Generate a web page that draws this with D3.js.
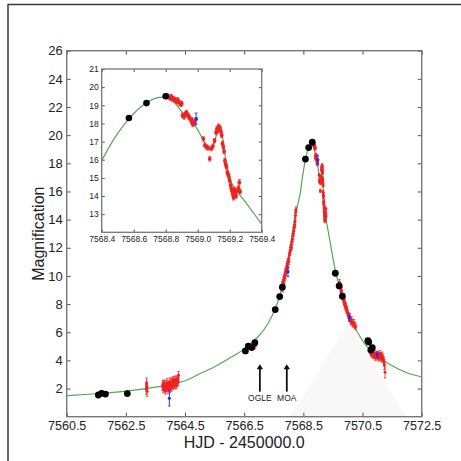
<!DOCTYPE html>
<html>
<head>
<meta charset="utf-8">
<script src="https://cdn.jsdelivr.net/npm/d3@7"></script>
<style>
  body { margin: 0; background: #fff; }
  svg { display: block; }
  text { font-family: "Liberation Sans", Arial, sans-serif; fill: #222; }
</style>
</head>
<body>
<svg id="chart" width="461" height="461"></svg>
<script>
// ---- axis ticks ----
const mainXTicks = [7560.5, 7562.5, 7564.5, 7566.5, 7568.5, 7570.5, 7572.5];
const mainYTicks = [2, 4, 6, 8, 10, 12, 14, 16, 18, 20, 22, 24, 26];
const insetXTicks = [7568.4, 7568.6, 7568.8, 7569.0, 7569.2, 7569.4];
const insetYTicks = [13, 14, 15, 16, 17, 18, 19, 20, 21];

// ---- binary-lens model curve (t, A) ----
const modelWings = [
  [7560.5, 1.49], [7561.0, 1.56], [7561.5, 1.63], [7562.0, 1.71], [7562.5, 1.82],
  [7563.0, 1.94], [7563.5, 2.10], [7564.0, 2.28], [7564.5, 2.55], [7565.0, 3.05],
  [7565.5, 3.55], [7566.0, 4.15], [7566.5, 4.80], [7567.0, 5.75], [7567.3, 6.60],
  [7567.6, 7.95], [7567.8, 9.40], [7568.0, 11.30], [7568.2, 14.00],
  [7569.6, 10.20], [7569.8, 8.70], [7570.0, 7.40], [7570.3, 6.10], [7570.6, 5.10],
  [7570.8, 4.65], [7571.0, 4.30], [7571.5, 3.62], [7572.0, 3.12], [7572.5, 2.82]
];
const modelPeak = [
  [7568.40, 15.95], [7568.45, 16.75], [7568.50, 17.45], [7568.55, 18.05], [7568.60, 18.55],
  [7568.65, 18.95], [7568.70, 19.25], [7568.75, 19.42], [7568.78, 19.45], [7568.82, 19.40],
  [7568.86, 19.10], [7568.90, 18.65], [7568.94, 18.30], [7568.97, 18.05], [7569.00, 17.65],
  [7569.03, 17.15], [7569.06, 16.72], [7569.08, 16.55], [7569.10, 16.85], [7569.12, 17.45],
  [7569.135, 17.78], [7569.15, 17.45], [7569.165, 16.60], [7569.18, 15.75], [7569.20, 14.95],
  [7569.23, 14.45], [7569.26, 14.10], [7569.30, 13.65], [7569.35, 13.05], [7569.40, 12.45]
];

// ---- photometry: OGLE (black), KMTNet (red), MOA (blue) as [t, A, err] ----
const blackPts = [
  [7561.57, 1.54, 0.06], [7561.68, 1.66, 0.06], [7561.81, 1.61, 0.06], [7562.55, 1.64, 0.06],
  [7566.54, 4.67, 0.08], [7566.64, 5.02, 0.08], [7566.75, 4.91, 0.08], [7566.86, 5.26, 0.08],
  [7567.55, 7.61, 0.1], [7567.70, 8.53, 0.1], [7567.79, 9.20, 0.1],
  [7568.57, 18.30, 0.12], [7568.68, 19.12, 0.1], [7568.80, 19.50, 0.1],
  [7569.58, 10.19, 0.1], [7569.71, 9.29, 0.1], [7569.82, 8.56, 0.1],
  [7570.68, 5.40, 0.08], [7570.71, 5.30, 0.08], [7570.78, 4.74, 0.08], [7570.83, 4.90, 0.08]
];
const redPts = [
  [7563.19, 1.95, 0.35], [7563.20, 2.35, 0.40], [7563.21, 2.10, 0.30], [7563.22, 1.80, 0.35], [7563.20, 2.20, 0.30],
  [7563.74, 2.15, 0.3], [7563.75, 2.30, 0.3], [7563.77, 1.95, 0.25], [7563.78, 2.20, 0.3], [7563.80, 2.05, 0.3],
  [7563.81, 2.35, 0.25], [7563.83, 2.10, 0.3], [7563.84, 1.90, 0.3], [7563.86, 2.25, 0.3], [7563.87, 2.05, 0.25],
  [7563.89, 2.40, 0.3], [7563.90, 2.15, 0.3], [7563.92, 1.95, 0.3], [7563.93, 2.30, 0.25], [7563.95, 2.10, 0.3],
  [7563.96, 2.20, 0.3], [7563.98, 2.45, 0.3], [7563.99, 2.00, 0.3], [7564.01, 2.25, 0.25], [7564.02, 2.35, 0.3],
  [7564.04, 2.10, 0.3], [7564.05, 2.50, 0.3], [7564.07, 2.20, 0.25], [7564.08, 2.40, 0.3], [7564.10, 2.30, 0.3],
  [7564.11, 2.55, 0.3], [7564.13, 2.25, 0.3], [7564.14, 2.45, 0.3], [7564.16, 2.35, 0.25], [7564.17, 2.60, 0.3],
  [7564.19, 2.40, 0.3], [7564.20, 2.30, 0.3], [7564.22, 2.55, 0.3], [7564.23, 2.45, 0.3], [7564.25, 2.65, 0.3],
  [7564.27, 2.50, 0.3], [7564.28, 2.95, 0.25],
  [7566.85, 4.95, 0.15], [7566.88, 5.05, 0.15],
  [7567.77, 9.15, 0.2], [7567.79, 9.40, 0.2], [7567.80, 9.05, 0.2], [7567.81, 9.55, 0.2], [7567.83, 9.70, 0.2],
  [7567.84, 9.45, 0.2], [7567.85, 9.90, 0.2], [7567.87, 10.05, 0.2], [7567.88, 9.85, 0.2], [7567.89, 10.30, 0.2],
  [7567.91, 10.45, 0.2], [7567.92, 10.20, 0.2], [7567.94, 10.70, 0.2], [7567.95, 10.85, 0.2], [7567.97, 10.60, 0.2],
  [7567.98, 11.05, 0.2], [7568.00, 11.20, 0.2], [7568.01, 11.00, 0.2], [7568.03, 11.50, 0.2], [7568.04, 11.65, 0.2],
  [7568.06, 11.80, 0.2], [7568.07, 12.05, 0.2], [7568.09, 12.20, 0.2], [7568.10, 12.00, 0.2], [7568.12, 12.45, 0.2],
  [7568.13, 12.60, 0.2], [7568.15, 12.85, 0.2], [7568.16, 13.00, 0.2], [7568.18, 13.20, 0.2], [7568.19, 13.45, 0.2],
  [7568.21, 13.60, 0.2], [7568.22, 13.90, 0.2], [7568.23, 14.30, 0.2], [7568.24, 14.55, 0.2], [7568.25, 14.70, 0.2],
  [7568.81, 19.52, 0.12], [7568.82, 19.45, 0.12], [7568.83, 19.40, 0.12], [7568.835, 19.48, 0.12], [7568.84, 19.35, 0.12],
  [7568.85, 19.38, 0.12], [7568.855, 19.30, 0.12], [7568.86, 19.28, 0.12], [7568.87, 19.22, 0.12], [7568.875, 19.30, 0.12],
  [7568.88, 19.18, 0.12], [7568.89, 19.12, 0.12], [7568.895, 19.05, 0.12], [7568.90, 19.10, 0.12],
  [7568.905, 18.45, 0.12], [7568.915, 18.35, 0.12], [7568.925, 18.55, 0.12], [7568.93, 18.60, 0.12], [7568.94, 18.45, 0.12],
  [7568.945, 18.35, 0.12], [7568.95, 18.30, 0.12], [7568.96, 18.10, 0.12], [7568.965, 18.20, 0.12], [7568.97, 17.95, 0.12],
  [7568.98, 18.05, 0.12],
  [7569.035, 17.15, 0.12], [7569.045, 16.80, 0.12], [7569.055, 16.70, 0.12], [7569.065, 16.65, 0.12], [7569.075, 16.05, 0.12],
  [7569.085, 16.62, 0.12], [7569.095, 16.75, 0.12], [7569.105, 17.05, 0.12], [7569.115, 17.50, 0.12], [7569.12, 17.70, 0.12],
  [7569.125, 17.60, 0.12], [7569.13, 17.85, 0.12], [7569.14, 17.75, 0.12], [7569.145, 17.55, 0.12], [7569.15, 17.35, 0.12],
  [7569.155, 16.90, 0.12], [7569.16, 16.70, 0.12], [7569.165, 16.45, 0.12], [7569.17, 15.95, 0.12], [7569.175, 15.75, 0.12],
  [7569.18, 15.60, 0.12], [7569.185, 15.30, 0.12], [7569.19, 15.20, 0.12], [7569.195, 15.05, 0.12], [7569.20, 14.85, 0.12],
  [7569.205, 14.60, 0.12], [7569.21, 14.40, 0.12], [7569.215, 14.25, 0.12], [7569.22, 14.05, 0.12], [7569.225, 13.90, 0.12],
  [7569.23, 14.35, 0.12], [7569.235, 14.20, 0.12], [7569.24, 14.00, 0.12], [7569.25, 14.30, 0.12], [7569.255, 14.45, 0.12],
  [7569.26, 14.75, 0.15], [7569.265, 14.25, 0.12],
  [7569.72, 9.55, 0.2], [7569.73, 9.30, 0.2], [7569.75, 9.10, 0.2], [7569.76, 9.25, 0.2], [7569.78, 8.85, 0.2],
  [7569.79, 8.95, 0.2], [7569.81, 8.70, 0.2], [7569.82, 8.50, 0.2], [7569.84, 8.40, 0.2], [7569.85, 8.55, 0.2],
  [7569.87, 8.20, 0.2], [7569.88, 8.05, 0.2], [7569.90, 8.15, 0.2], [7569.91, 7.90, 0.2], [7569.93, 7.75, 0.2],
  [7569.94, 7.85, 0.2], [7569.96, 7.55, 0.2], [7569.97, 7.65, 0.2], [7569.99, 7.40, 0.2], [7570.01, 7.30, 0.2],
  [7570.03, 7.20, 0.2], [7570.05, 6.95, 0.2], [7570.07, 7.10, 0.2], [7570.09, 6.85, 0.2], [7570.11, 6.75, 0.2],
  [7570.13, 6.90, 0.2], [7570.15, 6.65, 0.2], [7570.18, 6.55, 0.2], [7570.21, 6.70, 0.2], [7570.24, 6.45, 0.2],
  [7570.27, 6.40, 0.2],
  [7570.76, 4.65, 0.2], [7570.78, 4.50, 0.2], [7570.80, 4.60, 0.2], [7570.82, 4.40, 0.2], [7570.84, 4.55, 0.2],
  [7570.86, 4.35, 0.2], [7570.88, 4.45, 0.2], [7570.90, 4.30, 0.2], [7570.92, 4.50, 0.2], [7570.94, 4.20, 0.2],
  [7570.96, 4.35, 0.2], [7570.98, 4.45, 0.2], [7571.00, 4.25, 0.2], [7571.02, 4.40, 0.2], [7571.04, 4.15, 0.2],
  [7571.06, 4.30, 0.2], [7571.08, 4.50, 0.2], [7571.10, 4.20, 0.2], [7571.12, 4.35, 0.2], [7571.14, 4.10, 0.2],
  [7571.16, 4.40, 0.2], [7571.18, 4.25, 0.2], [7571.20, 4.05, 0.2], [7571.22, 3.90, 0.3], [7571.24, 3.70, 0.35],
  [7571.26, 3.15, 0.4]
];
const bluePts = [
  [7563.97, 1.31, 0.55], [7567.98, 10.30, 0.35], [7568.99, 18.25, 0.32], [7570.05, 7.05, 0.25], [7571.00, 4.40, 0.2]
];

// ---- annotations: survey alert times ----
const alertNames = ["OGLE", "MOA"];
const alertTimes = [7567.03, 7567.94];

// ---------------------------------------------------------------
const svg = d3.select("#chart");
const W = 461, H = 461;

// outer frame lines (top and left)
svg.append("line").attr("x1", 8).attr("y1", 4.5).attr("x2", W).attr("y2", 4.5)
  .attr("stroke", "#3a3a3a").attr("stroke-width", 1.5);
svg.append("line").attr("x1", 8).attr("y1", 4).attr("x2", 8).attr("y2", H)
  .attr("stroke", "#3a3a3a").attr("stroke-width", 1.5);

const main = { left: 66.7, right: 421.7, top: 50.7, bottom: 416.7 };
const x = d3.scaleLinear().domain([7560.5, 7572.5]).range([main.left, main.right]);
const y = d3.scaleLinear().domain([0, 26]).range([main.bottom, main.top]);

const ins = { left: 101.7, right: 261.7, top: 69, bottom: 232.3 };
const xi = d3.scaleLinear().domain([7568.4, 7569.4]).range([ins.left, ins.right]);
const yi = d3.scaleLinear().domain([12, 21]).range([ins.bottom, ins.top]);

const defs = svg.append("defs");
defs.append("clipPath").attr("id", "clipMain").append("rect")
  .attr("x", main.left).attr("y", main.top)
  .attr("width", main.right - main.left).attr("height", main.bottom - main.top);
defs.append("clipPath").attr("id", "clipInset").append("rect")
  .attr("x", ins.left).attr("y", ins.top)
  .attr("width", ins.right - ins.left).attr("height", ins.bottom - ins.top);

// faint grey wedge in the lower right of the plot area
const gMain = svg.append("g").attr("clip-path", "url(#clipMain)");
gMain.append("path")
  .attr("d", d3.line()([[x(7568.05), y(0)], [x(7570.01), y(6.6)], [x(7571.97), y(0)]]) + "Z")
  .attr("fill", "#f9f8f8");

const fullModel = modelWings.filter(d => d[0] < 7568.4)
  .concat(modelPeak)
  .concat(modelWings.filter(d => d[0] > 7569.4));

const greenCol = "#55a655";
const redCol = "#ee2222";
const blueCol = "#2a2ae8";

function drawModel(g, sx, sy, pts) {
  g.append("path").datum(pts)
    .attr("fill", "none").attr("stroke", greenCol).attr("stroke-width", 1.2)
    .attr("d", d3.line().x(d => sx(d[0])).y(d => sy(d[1])).curve(d3.curveCatmullRom.alpha(0.5)));
}

function drawErr(g, sx, sy, pts, col, r, cap, sw) {
  const grp = g.append("g");
  grp.selectAll("line.eb").data(pts).join("line").attr("class", "eb")
    .attr("x1", d => sx(d[0])).attr("x2", d => sx(d[0]))
    .attr("y1", d => sy(d[1] - d[2])).attr("y2", d => sy(d[1] + d[2]))
    .attr("stroke", col).attr("stroke-width", sw);
  if (cap > 0) {
    grp.selectAll("line.ct").data(pts).join("line").attr("class", "ct")
      .attr("x1", d => sx(d[0]) - cap).attr("x2", d => sx(d[0]) + cap)
      .attr("y1", d => sy(d[1] + d[2])).attr("y2", d => sy(d[1] + d[2]))
      .attr("stroke", col).attr("stroke-width", sw);
    grp.selectAll("line.cb").data(pts).join("line").attr("class", "cb")
      .attr("x1", d => sx(d[0]) - cap).attr("x2", d => sx(d[0]) + cap)
      .attr("y1", d => sy(d[1] - d[2])).attr("y2", d => sy(d[1] - d[2]))
      .attr("stroke", col).attr("stroke-width", sw);
  }
  grp.selectAll("circle").data(pts).join("circle")
    .attr("cx", d => sx(d[0])).attr("cy", d => sy(d[1])).attr("r", r)
    .attr("fill", col);
}

drawModel(gMain, x, y, fullModel);
drawErr(gMain, x, y, redPts, redCol, 1.5, 1.2, 0.8);
drawErr(gMain, x, y, bluePts, blueCol, 1.6, 1.2, 0.9);
drawErr(gMain, x, y, blackPts, "#000", 3.4, 0, 0.8);

// alert arrows
alertTimes.forEach((t, i) => {
  const ax = x(t), y0 = y(1.78), y1 = y(3.72);
  svg.append("line").attr("x1", ax).attr("x2", ax).attr("y1", y0).attr("y2", y1 + 4)
    .attr("stroke", "#111").attr("stroke-width", 1.8);
  svg.append("path")
    .attr("d", `M${ax},${y1} L${ax - 3.2},${y1 + 5} L${ax + 3.2},${y1 + 5} Z`)
    .attr("fill", "#111");
  svg.append("text").attr("x", ax).attr("y", y(1.1)).attr("text-anchor", "middle")
    .attr("font-size", 8.5).text(alertNames[i]);
});

// main axes: frame, inward ticks on all sides
const frameCol = "#777";
function styleAxis(g) {
  g.select(".domain").remove();
  g.selectAll(".tick line").attr("stroke", "#555").attr("stroke-width", 1);
}
svg.append("g").attr("transform", `translate(0,${main.bottom})`)
  .call(d3.axisBottom(x).tickValues(mainXTicks).tickFormat(d3.format(".1f"))
    .tickSizeInner(-4).tickSizeOuter(0).tickPadding(4))
  .call(styleAxis)
  .call(g => g.selectAll("text").attr("font-size", 12.5).attr("fill", "#222")
    .attr("font-family", "Liberation Sans, Arial, sans-serif"));
svg.append("g").attr("transform", `translate(0,${main.top})`)
  .call(d3.axisTop(x).tickValues(mainXTicks).tickFormat("").tickSizeInner(-4).tickSizeOuter(0))
  .call(styleAxis);
svg.append("g").attr("transform", `translate(${main.left},0)`)
  .call(d3.axisLeft(y).tickValues(mainYTicks).tickFormat(d3.format("d"))
    .tickSizeInner(-4).tickSizeOuter(0).tickPadding(4))
  .call(styleAxis)
  .call(g => g.selectAll("text").attr("font-size", 13).attr("fill", "#222")
    .attr("font-family", "Liberation Sans, Arial, sans-serif"));
svg.append("g").attr("transform", `translate(${main.right},0)`)
  .call(d3.axisRight(y).tickValues(mainYTicks).tickFormat("").tickSizeInner(-4).tickSizeOuter(0))
  .call(styleAxis);
svg.append("rect").attr("x", main.left).attr("y", main.top)
  .attr("width", main.right - main.left).attr("height", main.bottom - main.top)
  .attr("fill", "none").attr("stroke", frameCol).attr("stroke-width", 1.4);

// axis titles
svg.append("text").attr("x", (main.left + main.right) / 2).attr("y", 448)
  .attr("text-anchor", "middle").attr("font-size", 16).text("HJD - 2450000.0");
svg.append("text").attr("transform", `translate(44,${(main.top + main.bottom) / 2}) rotate(-90)`)
  .attr("text-anchor", "middle").attr("font-size", 16).text("Magnification");

// ---- inset: zoom on the planetary anomaly ----
svg.append("rect").attr("x", ins.left).attr("y", ins.top)
  .attr("width", ins.right - ins.left).attr("height", ins.bottom - ins.top)
  .attr("fill", "#fff");
const gIns = svg.append("g").attr("clip-path", "url(#clipInset)");
drawModel(gIns, xi, yi, modelPeak);
drawErr(gIns, xi, yi, redPts.filter(d => d[0] >= 7568.4 && d[0] <= 7569.4), redCol, 1.9, 1.5, 0.8);
drawErr(gIns, xi, yi, bluePts.filter(d => d[0] >= 7568.4 && d[0] <= 7569.4), blueCol, 2, 1.5, 0.9);
drawErr(gIns, xi, yi, blackPts.filter(d => d[0] >= 7568.4 && d[0] <= 7569.4), "#000", 3.3, 0, 0.8);

svg.append("g").attr("transform", `translate(0,${ins.bottom})`)
  .call(d3.axisBottom(xi).tickValues(insetXTicks).tickFormat(d3.format(".1f"))
    .tickSizeInner(-3).tickSizeOuter(0).tickPadding(4))
  .call(styleAxis)
  .call(g => g.selectAll("text").attr("font-size", 8.5).attr("fill", "#222")
    .attr("font-family", "Liberation Sans, Arial, sans-serif"));
svg.append("g").attr("transform", `translate(0,${ins.top})`)
  .call(d3.axisTop(xi).tickValues(insetXTicks).tickFormat("").tickSizeInner(-3).tickSizeOuter(0))
  .call(styleAxis);
svg.append("g").attr("transform", `translate(${ins.left},0)`)
  .call(d3.axisLeft(yi).tickValues(insetYTicks).tickFormat(d3.format("d"))
    .tickSizeInner(-3).tickSizeOuter(0).tickPadding(3))
  .call(styleAxis)
  .call(g => g.selectAll("text").attr("font-size", 8.5).attr("fill", "#222")
    .attr("font-family", "Liberation Sans, Arial, sans-serif"));
svg.append("g").attr("transform", `translate(${ins.right},0)`)
  .call(d3.axisRight(yi).tickValues(insetYTicks).tickFormat("").tickSizeInner(-3).tickSizeOuter(0))
  .call(styleAxis);
svg.append("rect").attr("x", ins.left).attr("y", ins.top)
  .attr("width", ins.right - ins.left).attr("height", ins.bottom - ins.top)
  .attr("fill", "none").attr("stroke", frameCol).attr("stroke-width", 1.3);
</script>
</body>
</html>
